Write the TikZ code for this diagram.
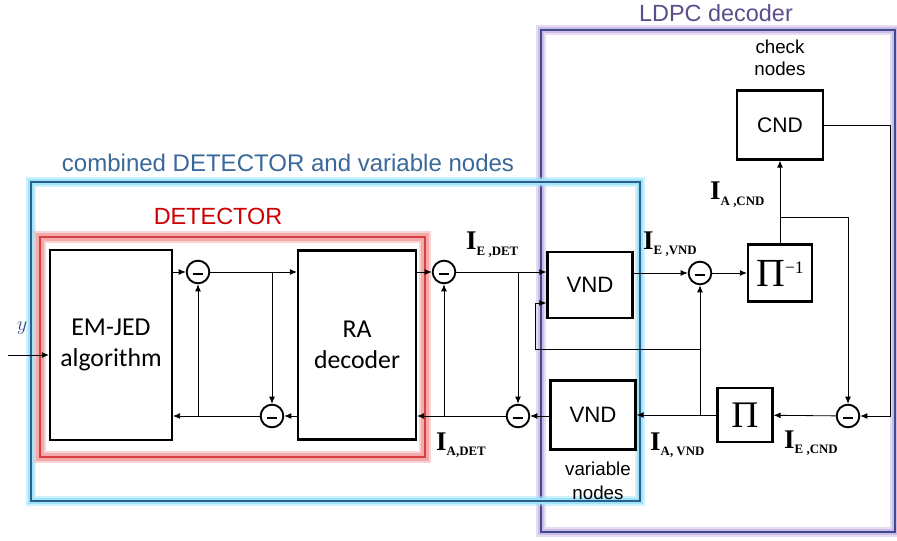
\documentclass[tikz,border=0pt]{standalone}
\usepackage{fontspec}
\usepackage{tikz}
\usepackage{xcolor}
\usetikzlibrary{arrows.meta, positioning}
\setmainfont{Liberation Sans}
\newfontfamily\calibri{Carlito}
\newfontfamily\timesfont{Liberation Serif}
\definecolor{DetRed}{RGB}{204, 0, 0}
\definecolor{DetLine}{RGB}{214, 64, 64}
\definecolor{DetGlow}{RGB}{244, 170, 170}
\definecolor{CombLine}{RGB}{46, 94, 142}
\definecolor{CombGlow}{RGB}{160, 228, 250}
\definecolor{CombText}{RGB}{58, 104, 152}
\definecolor{LdpcLine}{RGB}{62, 76, 140}
\definecolor{LdpcGlow}{RGB}{206, 188, 232}
\definecolor{LdpcText}{RGB}{92, 76, 140}
\definecolor{InkBlue}{RGB}{46, 74, 122}
\newcommand{\infolab}[1]{{\timesfont\fontsize{23}{23}\selectfont\bfseries I}\raisebox{-5pt}{\timesfont\fontsize{11}{11}\selectfont\bfseries #1}}

\begin{document}
\begin{tikzpicture}[
    x=0.03cm, y=-0.03cm,
    block/.style={draw, fill=white, line width=1.8pt, inner sep=0pt, align=center},
    sub/.style={circle, draw, fill=white, line width=1.6pt, minimum size=0.68cm, inner sep=0pt,
        path picture={\draw[line width=1.9pt] ([xshift=-4.5pt, yshift=-1.5pt]path picture bounding box.center) -- ++(9pt,0);}},
    wire/.style={line width=0.7pt, -{Latex[length=6pt, width=5pt]}},
    info/.style={inner sep=0pt, anchor=base west},
    caption/.style={font=\fontsize{20}{20}\selectfont}
]
\useasboundingbox (0,0) rectangle (897,541);

% Frames
\draw[LdpcGlow, line width=9pt, opacity=0.5] (541,30) rectangle (895,532);
\draw[LdpcGlow, line width=5pt] (541,30) rectangle (895,532);
\draw[LdpcLine, line width=2.2pt] (541,30) rectangle (895,532);
\draw[CombGlow, line width=9pt, opacity=0.5] (31,182) rectangle (640,501);
\draw[CombGlow, line width=5pt] (31,182) rectangle (640,501);
\draw[CombLine, line width=2.2pt] (31,182) rectangle (640,501);
\draw[DetGlow, line width=10pt, opacity=0.5] (40,237) rectangle (425,457);
\draw[DetGlow, line width=6pt] (40,237) rectangle (425,457);
\draw[DetLine, line width=2.2pt] (40,237) rectangle (425,457);

\node[caption, text=LdpcText] (ldpcCap) at (716,13) {LDPC decoder};
\node[caption, text=CombText, font=\fontsize{20.5}{20.5}\selectfont] (combCap) at (288,163) {combined DETECTOR and variable nodes};
\node[caption, text=DetRed] (detCap) at (218,216) {DETECTOR};

% Blocks
\node[block, font=\calibri\fontsize{22}{27}\selectfont, minimum width=3.66cm, minimum height=5.7cm] (EM) at (111,345) {EM-JED\\algorithm};
\node[block, font=\calibri\fontsize{22}{27}\selectfont, minimum width=3.54cm, minimum height=5.67cm] (RA) at (357,345) {RA\\decoder};
\node[block, font=\fontsize{19}{19}\selectfont, minimum width=2.55cm, minimum height=1.98cm] (VNDa) at (590,285) {VND};
\node[block, font=\fontsize{19}{19}\selectfont, minimum width=2.55cm, minimum height=2.07cm] (VNDb) at (593,415) {VND};
\node[block, font=\timesfont\fontsize{34}{34}\selectfont, minimum width=1.92cm, minimum height=1.71cm] (PiInv) at (780,273) {Π\raisebox{11pt}{\fontsize{15}{15}\selectfont −1}};
\node[block, font=\timesfont\fontsize{32}{32}\selectfont, minimum width=1.65cm, minimum height=1.62cm] (Pi) at (745,415) {Π};
\node[block, font=\fontsize{18}{18}\selectfont, minimum width=2.58cm, minimum height=2.07cm] (CND) at (780,125) {CND};

\node[font=\fontsize{16}{19}\selectfont, align=center] (checkCap) at (780,58) {check\\nodes};
\node[font=\fontsize{16}{20}\selectfont, align=center] (varCap) at (598,481) {variable\\nodes};

% Subtractors
\node[sub] (S1) at (198,272) {};
\node[sub] (S2) at (272,416) {};
\node[sub] (S3) at (444,272) {};
\node[sub] (S4) at (518,416) {};
\node[sub] (S5) at (700,273) {};
\node[sub] (S6) at (848,416) {};

% Input
\coordinate (yin) at (8,355);
\draw[wire] (yin) -- (EM.west |- yin);
\node[text=InkBlue, font=\fontsize{17}{17}\selectfont] (ylab) at (22,328) {$y$};

% Detector loop
\draw[wire] (EM.east |- S1) -- (S1);
\draw[wire] (S1) -- (RA.west |- S1);
\draw[wire] (S2 |- S1) -- (S2);
\draw[wire] (RA.west |- S2) -- (S2);
\draw[wire] (S2) -- (EM.east |- S2);
\draw[wire] (S1 |- S2) -- (S1);

% Detector and variable nodes
\draw[wire] (RA.east |- S3) -- (S3);
\draw[wire] (S3) -- (VNDa.west |- S3);
\draw[wire] (S4 |- S3) -- (S4);
\draw[wire] (VNDb.west |- S4) -- (S4);
\draw[wire] (S4) -- (RA.east |- S4);
\draw[wire] (S3 |- S4) -- (S3);

% LDPC loop
\coordinate (tap) at (780,217);
\coordinate (cndR) at (890,125);
\coordinate (fbL) at (535,349);
\draw[wire] (VNDa.east |- S5) -- (S5);
\draw[wire] (S5) -- (PiInv);
\draw[wire] (PiInv) -- (CND);
\draw[wire] (tap) -| (S6);
\draw[wire] (CND.east) -- (cndR) |- (S6);
\draw[wire] (S6) -- (Pi);
\draw[wire] (Pi) -- (VNDb.east |- Pi);
\draw[wire] (S5 |- Pi) -- (S5);
\draw[wire] (S5 |- fbL) -- (fbL) |- ([yshift=-0.54cm]VNDa.west);

% Information labels
\node[info] (IEdet) at (466,250) {\infolab{E ,DET}};
\node[info] (IAdet) at (436,450) {\infolab{A,DET}};
\node[info] (IEvnd) at (643,249) {\infolab{E ,VND}};
\node[info] (IAvnd) at (650,450) {\infolab{A, VND}};
\node[info] (IAcnd) at (710,200) {\infolab{A ,CND}};
\node[info] (IEcnd) at (784,448) {\infolab{E ,CND}};

\end{tikzpicture}
\end{document}
